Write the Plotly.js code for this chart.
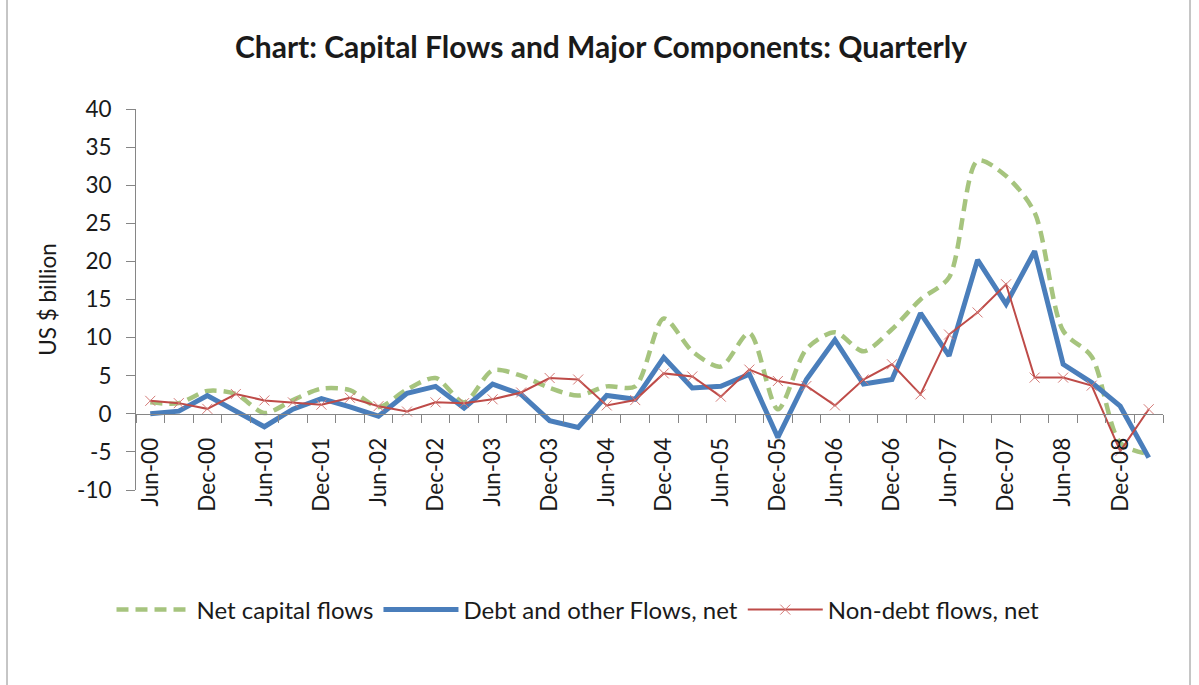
<!DOCTYPE html>
<html>
<head>
<meta charset="utf-8">
<script src="https://cdn.plot.ly/plotly-3.0.1.min.js"></script>
<style>
  html, body { margin: 0; padding: 0; background: #fff; }
  #chart { width: 1199px; height: 685px; }
</style>
</head>
<body>
<div id="chart"></div>
<script>
const quarters = ["Jun-00","Sep-00","Dec-00","Mar-01","Jun-01","Sep-01","Dec-01","Mar-02","Jun-02","Sep-02","Dec-02","Mar-03","Jun-03","Sep-03","Dec-03","Mar-04","Jun-04","Sep-04","Dec-04","Mar-05","Jun-05","Sep-05","Dec-05","Mar-06","Jun-06","Sep-06","Dec-06","Mar-07","Jun-07","Sep-07","Dec-07","Mar-08","Jun-08","Sep-08","Dec-08","Mar-09"];
const netCapitalFlows = [1.5,1.4,3.0,2.6,0.1,1.8,3.3,3.1,0.9,3.2,4.7,1.5,5.7,5.0,3.4,2.4,3.6,3.6,12.5,8.2,6.2,10.6,0.6,8.5,10.7,8.2,11.1,15.0,17.9,33.2,31.2,26.4,10.9,7.5,-3.8,-5.3];
const debtFlows = [0.0,0.35,2.4,0.4,-1.7,0.6,2.0,0.9,-0.3,2.7,3.6,0.75,3.9,2.55,-0.9,-1.8,2.4,1.9,7.4,3.4,3.6,5.2,-3.1,4.5,9.7,3.9,4.5,13.2,7.6,20.2,14.4,21.35,6.5,4.1,1.0,-5.75];
const nonDebtFlows = [1.7,1.4,0.65,2.6,1.75,1.5,1.2,2.1,1.0,0.3,1.5,1.4,1.9,2.8,4.7,4.5,1.1,1.8,5.3,4.9,2.25,5.8,4.3,3.65,1.1,4.5,6.5,2.55,10.4,13.3,17.0,4.75,4.75,3.7,-4.9,0.6];
const seriesNames = ["Net capital flows", "Debt and other Flows, net", "Non-debt flows, net"];
const yTickValues = [-10, -5, 0, 5, 10, 15, 20, 25, 30, 35, 40];
const yTickLabels = ["-10", "-5", "0", "5", "10", "15", "20", "25", "30", "35", "40"];

const idx = quarters.map((_, i) => i);
const labelIdx = idx.filter(i => i % 2 === 0);
const boundaries = idx.map(i => i - 0.5).concat([quarters.length - 0.5]);

const FONT = "Lato, 'Open Sans', sans-serif";
const TXT = "#1a1a1a";
const AX = "#868686";

const traces = [
  {
    x: idx, y: netCapitalFlows, name: seriesNames[0], type: "scatter", mode: "lines",
    line: { color: "#a6c47e", width: 4.5, dash: "12px,7px", shape: "spline", smoothing: 0.8 }
  },
  {
    x: idx, y: debtFlows, name: seriesNames[1], type: "scatter", mode: "lines",
    line: { color: "#4a7ebb", width: 5 }
  },
  {
    x: idx, y: nonDebtFlows, name: seriesNames[2], type: "scatter", mode: "lines+markers",
    line: { color: "#be4b48", width: 2 },
    marker: { symbol: "x-thin", size: 10, color: "#d47a77", line: { width: 1, color: "#d47a77" } }
  }
];

const W = 1199, H = 685, ML = 136, MR = 36, MT = 109, MB = 195;
const pw = W - ML - MR, ph = H - MT - MB;
const px = v => (v - ML) / pw;
const py = v => (H - MB - v) / ph;

const layout = {
  width: W, height: H,
  margin: { l: ML, r: MR, t: MT, b: MB, pad: 0 },
  paper_bgcolor: "#fff", plot_bgcolor: "#fff",
  font: { family: FONT, color: TXT, size: 22 },
  title: {
    text: "<b>Chart: Capital Flows and Major Components: Quarterly</b>",
    font: { family: FONT, size: 30, color: TXT },
    x: 601 / W, xref: "container", xanchor: "center",
    y: 1 - 47 / H, yref: "container", yanchor: "middle"
  },
  xaxis: {
    type: "linear", range: [-0.5, quarters.length - 0.5],
    tickmode: "array", tickvals: labelIdx, ticktext: labelIdx.map(i => quarters[i]),
    tickangle: -90, ticks: "outside", ticklen: 14, tickcolor: "rgba(0,0,0,0)",
    tickfont: { family: FONT, size: 22.5, color: TXT },
    showline: true, linecolor: AX, linewidth: 1,
    showgrid: false, zeroline: false,
    anchor: "free", position: 0.2,
    minor: { tickmode: "array", tickvals: boundaries, ticks: "outside", ticklen: 8, tickcolor: AX, tickwidth: 1, showgrid: false }
  },
  yaxis: {
    range: [-10, 40],
    tickmode: "array", tickvals: yTickValues, ticktext: yTickLabels,
    ticks: "outside", ticklen: 9, tickcolor: AX,
    tickfont: { family: FONT, size: 22.5, color: TXT },
    ticklabelstandoff: 10,
    showline: true, linecolor: AX, linewidth: 1,
    showgrid: false, zeroline: false,
    title: { text: "US $ billion", font: { family: FONT, size: 22.5, color: TXT }, standoff: 14 }
  },
  showlegend: true,
  legend: {
    orientation: "h", x: px(578), xanchor: "center", y: py(610), yanchor: "middle",
    font: { family: FONT, size: 24, color: TXT }, bgcolor: "rgba(0,0,0,0)",
    itemwidth: 75, traceorder: "normal"
  },
  shapes: [
    { type: "line", xref: "paper", yref: "paper", x0: px(7), x1: px(7), y0: py(0), y1: py(H), line: { color: "#8c8c8c", width: 1 } },
    { type: "line", xref: "paper", yref: "paper", x0: px(1190), x1: px(1190), y0: py(0), y1: py(H), line: { color: "#8c8c8c", width: 1 } }
  ]
};

Plotly.newPlot("chart", traces, layout, { displayModeBar: false, staticPlot: true });
</script>
</body>
</html>
